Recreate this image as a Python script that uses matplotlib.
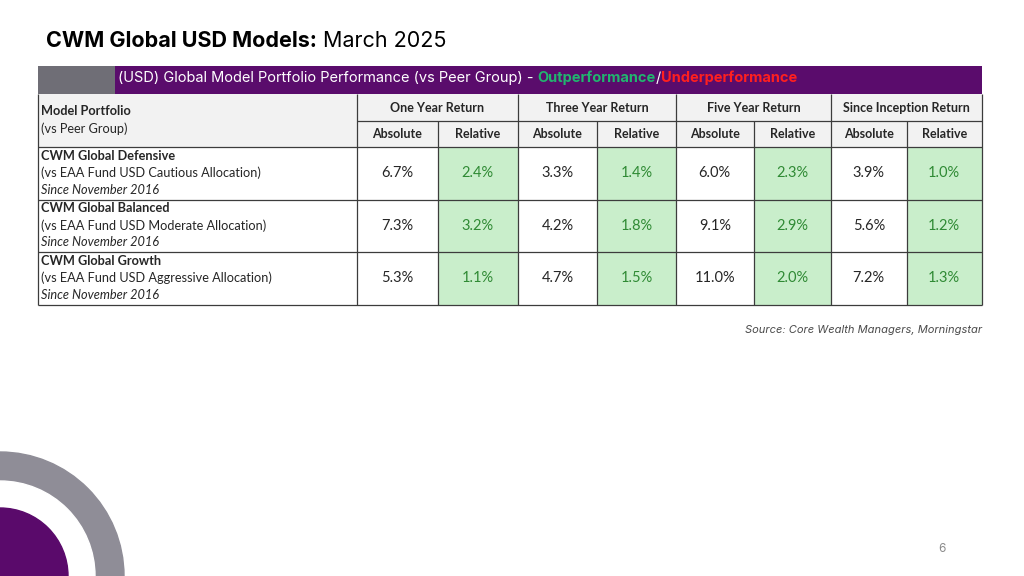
import matplotlib
matplotlib.use("Agg")
import matplotlib.pyplot as plt
from matplotlib.patches import Rectangle, Circle

# ---------------- data ----------------
title_bold = "CWM Global USD Models:"
title_normal = " March 2025"
banner_text = "(USD) Global Model Portfolio Performance (vs Peer Group) - "
banner_out = "Outperformance"
banner_under = "Underperformance"
periods = ["One Year Return", "Three Year Return", "Five Year Return", "Since Inception Return"]
subcols = ["Absolute", "Relative"]
model_names = ["CWM Global Defensive", "CWM Global Balanced", "CWM Global Growth"]
peer_groups = ["(vs EAA Fund USD Cautious Allocation)",
               "(vs EAA Fund USD Moderate Allocation)",
               "(vs EAA Fund USD Aggressive Allocation)"]
inception = ["Since November 2016"] * 3
absolute = [[6.7, 3.3, 6.0, 3.9],
            [7.3, 4.2, 9.1, 5.6],
            [5.3, 4.7, 11.0, 7.2]]
relative = [[2.4, 1.4, 2.3, 1.0],
            [3.2, 1.8, 2.9, 1.2],
            [1.1, 1.5, 2.0, 1.3]]
source = "Source: Core Wealth Managers, Morningstar"
page_no = "6"

# ---------------- layout ----------------
W, H = 1024, 576
fig = plt.figure(figsize=(W / 100, H / 100), dpi=100)
ax = fig.add_axes([0, 0, 1, 1])
ax.set_xlim(0, W)
ax.set_ylim(H, 0)
ax.axis("off")

PURPLE = "#5a0c6c"
GRAY_BLOCK = "#6f6e76"
HEAD_BG = "#f2f2f2"
GREEN_BG = "#c9eecb"
GREEN_TXT = "#2f8a34"
LINE = "#3c3c3c"
TXT = "#262626"
BODY_FONT = "Lato"

# decorative circles bottom-left
ax.add_patch(Circle((0, 576), 124, color="#8f8d97", zorder=1))
ax.add_patch(Circle((0, 576), 95, color="white", zorder=2))
ax.add_patch(Circle((0, 576), 68, color="#5a0a6b", zorder=3))

renderer = fig.canvas.get_renderer()

def text_run(x, y, parts, **common):
    """Draw consecutive text pieces on one line."""
    inv = ax.transData.inverted()
    for s, kw in parts:
        t = ax.text(x, y, s, va="center", ha="left", **common, **kw)
        bb = t.get_window_extent(renderer=renderer)
        x = inv.transform((bb.x1, bb.y0))[0]
    return x

# title
text_run(46, 41, [(title_bold, dict(fontweight="bold")),
                  (title_normal, dict(fontweight="normal"))],
         fontsize=15.5, color="black", family="Inter")

# banner
x0, x1 = 38, 982
ax.add_patch(Rectangle((x0, 66), 115 - x0, 28, color=GRAY_BLOCK, lw=0, zorder=1))
ax.add_patch(Rectangle((115, 66), x1 - 115, 28, color=PURPLE, lw=0, zorder=1))
text_run(118, 78, [(banner_text, dict(color="white")),
                   (banner_out, dict(color="#21b56f", fontweight="bold")),
                   ("/", dict(color="white")),
                   (banner_under, dict(color="#ff1f1f", fontweight="bold"))],
         fontsize=10.5, family="Inter", zorder=5)

# table geometry
label_right = 357
group_edges = [357, 518, 676, 831, 982]
head_top, head_mid, body_top = 94, 121, 147
row_h = 52.5
n_rows = len(model_names)
table_bottom = body_top + row_h * n_rows

# header background
ax.add_patch(Rectangle((x0, head_top), x1 - x0, body_top - head_top, color=HEAD_BG, lw=0, zorder=1))

# body cell fills
for r in range(n_rows):
    y = body_top + r * row_h
    for g in range(len(periods)):
        gl, gr = group_edges[g], group_edges[g + 1]
        mid = (gl + gr) / 2
        ax.add_patch(Rectangle((mid, y), gr - mid, row_h, color=GREEN_BG, lw=0, zorder=1))

# lines
lw = 0.9
def hline(y, xa, xb):
    ax.plot([xa, xb], [y, y], color=LINE, lw=lw, zorder=4, solid_capstyle="butt")
def vline(x, ya, yb):
    ax.plot([x, x], [ya, yb], color=LINE, lw=lw, zorder=4, solid_capstyle="butt")

hline(head_mid, label_right, x1)
for r in range(n_rows + 1):
    hline(body_top + r * row_h, x0, x1)
vline(x0, head_top, table_bottom)
for gx in group_edges:
    vline(gx, head_top, table_bottom)
for g in range(len(periods)):
    mid = (group_edges[g] + group_edges[g + 1]) / 2
    vline(mid, head_mid, table_bottom)

FS = 9.2
# header text
ax.text(41, 111, "Model Portfolio", fontsize=FS, fontweight="bold", color=TXT,
        va="center", ha="left", family=BODY_FONT, zorder=5)
ax.text(41, 129, "(vs Peer Group)", fontsize=FS, color=TXT,
        va="center", ha="left", family=BODY_FONT, zorder=5)
for g, p in enumerate(periods):
    gl, gr = group_edges[g], group_edges[g + 1]
    mid = (gl + gr) / 2
    ax.text(mid, (head_top + head_mid) / 2 + 0.5, p, fontsize=9, fontweight="bold",
            color=TXT, ha="center", va="center", family=BODY_FONT, zorder=5)
    for k, sc in enumerate(subcols):
        cx = (gl + mid) / 2 if k == 0 else (mid + gr) / 2
        ax.text(cx, (head_mid + body_top) / 2 + 0.5, sc, fontsize=9, fontweight="bold",
                color=TXT, ha="center", va="center", family=BODY_FONT, zorder=5)

# body text
for r in range(n_rows):
    y = body_top + r * row_h
    ax.text(41, y + 9, model_names[r], fontsize=FS, fontweight="bold", color=TXT,
            va="center", ha="left", family=BODY_FONT, zorder=5)
    ax.text(41, y + 26, peer_groups[r], fontsize=FS, color=TXT,
            va="center", ha="left", family=BODY_FONT, zorder=5)
    ax.text(41, y + 43, inception[r], fontsize=FS, style="italic", color=TXT,
            va="center", ha="left", family=BODY_FONT, zorder=5)
    for g in range(len(periods)):
        gl, gr = group_edges[g], group_edges[g + 1]
        mid = (gl + gr) / 2
        ax.text((gl + mid) / 2, y + row_h / 2, f"{absolute[r][g]:.1f}%", fontsize=10.5,
                color=TXT, ha="center", va="center", family=BODY_FONT, zorder=5)
        ax.text((mid + gr) / 2, y + row_h / 2, f"{relative[r][g]:.1f}%", fontsize=10.5,
                color=GREEN_TXT, ha="center", va="center", family=BODY_FONT, zorder=5)

# source & page number
ax.text(982, 330, source, fontsize=8, style="italic", color="#4a4a4a",
        ha="right", va="center", family="Inter", zorder=5)
ax.text(942, 549, page_no, fontsize=8.5, color="#8a8a8a", ha="center", va="center",
        family="Inter", zorder=5)

fig.savefig("out.png", dpi=100)
